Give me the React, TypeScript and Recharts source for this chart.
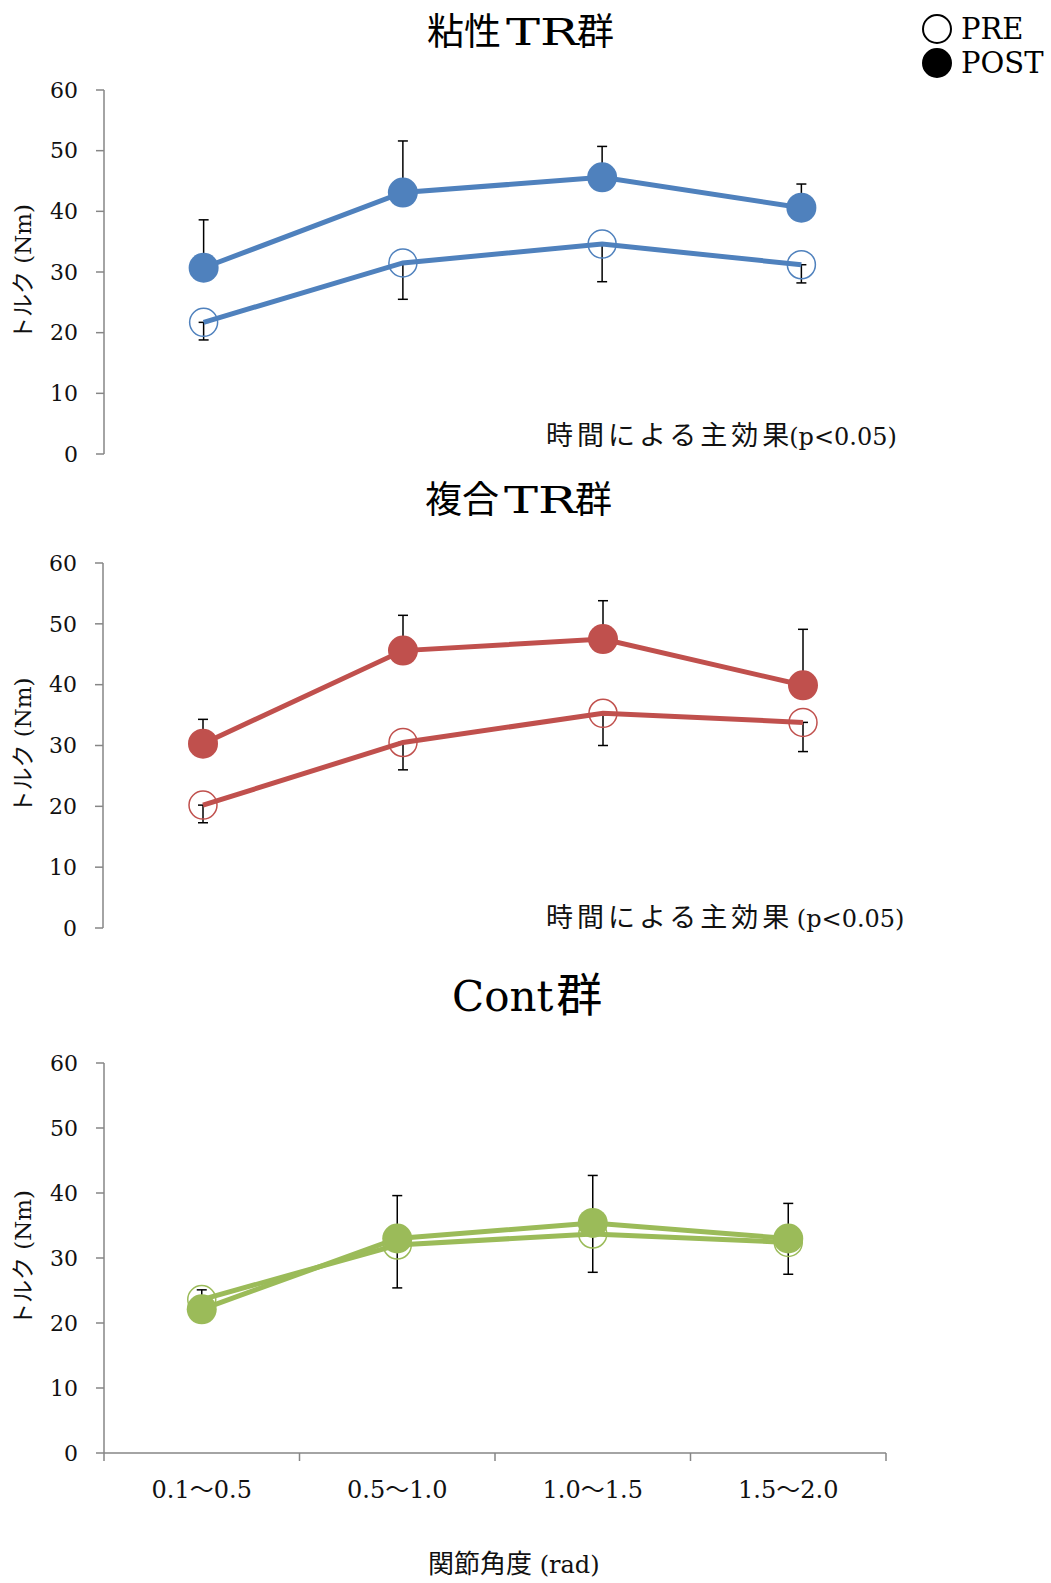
import { LineChart, Line, XAxis, YAxis, ErrorBar, Legend } from 'recharts';

const categories = ['0.1〜0.5', '0.5〜1.0', '1.0〜1.5', '1.5〜2.0'];
const yTicks = [0, 10, 20, 30, 40, 50, 60];
const bandTicks = [0, 0.5, 1, 1.5, 2, 2.5, 3, 3.5, 4];
const seriesNames = ['PRE', 'POST'];

// 粘性TR群
const viscPre = [21.7, 31.5, 34.6, 31.2];
const viscPreSd = [2.9, 6.0, 6.2, 3.0];
const viscPost = [30.7, 43.1, 45.6, 40.6];
const viscPostSd = [7.9, 8.5, 5.1, 3.9];

// 複合TR群
const combPre = [20.2, 30.5, 35.3, 33.8];
const combPreSd = [2.9, 4.5, 5.3, 4.8];
const combPost = [30.3, 45.6, 47.5, 39.9];
const combPostSd = [4.0, 5.8, 6.3, 9.2];

// Cont群
const contPre = [23.6, 32.0, 33.7, 32.4];
const contPreSd = [1.5, 6.6, 5.9, 4.9];
const contPost = [22.1, 33.0, 35.4, 33.0];
const contPostSd = [3.0, 6.6, 7.3, 5.4];

const SERIF = "'DejaVu Serif', 'Noto Sans CJK JP', serif";
const CJK = "'Noto Sans CJK JP', sans-serif";
const AXIS = '#868686';

const buildRows = (pre: number[], preSd: number[], post: number[], postSd: number[]) =>
  categories.map((c, i) => ({
    x: i + 0.5,
    cat: c,
    pre: pre[i],
    post: post[i],
    // PRE の誤差は下向き、POST は上向きのみ
    preErr: [preSd[i], 0],
    postErr: [0, postSd[i]],
  }));

const LegendContent = (props: any) => {
  const items = [...(props.payload || [])].sort(
    (a: any, b: any) => seriesNames.indexOf(a.value) - seriesNames.indexOf(b.value)
  );
  return (
    <div>
      {items.map((entry: any) => (
        <div key={entry.value} style={{ display: 'flex', alignItems: 'center', height: 34 }}>
          <svg width={32} height={32}>
            <circle
              cx={16}
              cy={16}
              r={14}
              fill={entry.value === 'POST' ? '#000' : 'none'}
              stroke="#000"
              strokeWidth={2}
            />
          </svg>
          <span style={{ fontFamily: SERIF, fontSize: 29, marginLeft: 8, color: '#000', lineHeight: '34px' }}>
            {entry.value}
          </span>
        </div>
      ))}
    </div>
  );
};

const BandTick = (props: any) => {
  const { x, y, payload } = props;
  const v = payload.value;
  if (Number.isInteger(v)) {
    return <line x1={x} y1={y} x2={x} y2={y + 8} stroke={AXIS} strokeWidth={1.5} />;
  }
  return (
    <text x={x} y={y + 45} textAnchor="middle" fontSize={24} fontFamily={SERIF} fill="#111">
      {categories[Math.floor(v)]}
    </text>
  );
};

const yLabel = (props: any) => {
  const vb = props.viewBox;
  const cx = vb.x + 23;
  const cy = vb.y + vb.height / 2;
  return (
    <text
      x={cx}
      y={cy}
      transform={`rotate(-90 ${cx} ${cy})`}
      textAnchor="middle"
      dominantBaseline="central"
      fontSize={23}
      fontFamily={SERIF}
      fill="#111"
    >
      トルク (Nm)
    </text>
  );
};

interface PanelProps {
  rows: ReturnType<typeof buildRows>;
  color: string;
  top: number;
  height: number;
  margin: { top: number; right: number; bottom: number; left: number };
  yWidth: number;
  showX?: boolean;
  legend?: boolean;
}

function Panel({ rows, color, top, height, margin, yWidth, showX, legend }: PanelProps) {
  return (
    <div style={{ position: 'absolute', left: 0, top }}>
      <LineChart width={1051} height={height} data={rows} margin={margin}>
        <XAxis
          dataKey="x"
          type="number"
          domain={[0, 4]}
          ticks={bandTicks}
          interval={0}
          hide={!showX}
          height={60}
          axisLine={{ stroke: AXIS, strokeWidth: 1.5 }}
          tickLine={false}
          tickSize={0}
          tickMargin={0}
          tick={<BandTick />}
        />
        <YAxis
          domain={[0, 60]}
          ticks={yTicks}
          width={yWidth}
          axisLine={{ stroke: AXIS, strokeWidth: 1.5 }}
          tickLine={{ stroke: AXIS, strokeWidth: 1.5 }}
          tickSize={8}
          tickMargin={18}
          tick={{ fontSize: 22, fill: '#111', fontFamily: SERIF }}
          label={yLabel}
        />
        {legend && (
          <Legend
            layout="horizontal"
            verticalAlign="middle"
            align="center"
            content={<LegendContent />}
            wrapperStyle={{ left: 921, top: 12, width: 130, height: 70 }}
          />
        )}
        <Line
          name="PRE"
          dataKey="pre"
          type="linear"
          stroke={color}
          strokeWidth={5}
          dot={{ r: 14, fill: 'none', stroke: color, strokeWidth: 1.5 }}
          activeDot={false}
          isAnimationActive={false}
        >
          <ErrorBar dataKey="preErr" direction="y" width={5} stroke="#000" strokeWidth={1.5} />
        </Line>
        <Line
          name="POST"
          dataKey="post"
          type="linear"
          stroke={color}
          strokeWidth={5}
          dot={{ r: 15, fill: color, stroke: color, strokeWidth: 0 }}
          activeDot={false}
          isAnimationActive={false}
        >
          <ErrorBar dataKey="postErr" direction="y" width={5} stroke="#000" strokeWidth={1.5} />
        </Line>
      </LineChart>
    </div>
  );
}

function Title({ left, centerY, children, size }: { left: number; centerY: number; children: any; size: number }) {
  return (
    <div
      style={{
        position: 'absolute',
        left,
        top: centerY - size * 0.7,
        height: size * 1.4,
        lineHeight: `${size * 1.4}px`,
        fontSize: size,
        fontFamily: SERIF,
        color: '#000',
        whiteSpace: 'nowrap',
      }}
    >
      {children}
    </div>
  );
}

// 幅の広い TR（全角風）
function WideTR() {
  return (
    <span style={{ display: 'inline-block', width: 68, margin: '0 3px 0 5px' }}>
      <span style={{ display: 'inline-block', transform: 'scaleX(1.38)', transformOrigin: 'left' }}>TR</span>
    </span>
  );
}

function Note({ left, centerY, gap }: { left: number; centerY: number; gap?: boolean }) {
  return (
    <div
      style={{
        position: 'absolute',
        left,
        top: centerY - 19,
        height: 38,
        lineHeight: '38px',
        whiteSpace: 'nowrap',
        color: '#111',
      }}
    >
      <span style={{ fontFamily: CJK, fontSize: 27, letterSpacing: 4 }}>時間による主効果</span>
      <span style={{ fontFamily: SERIF, fontSize: 24, marginLeft: -4 }}>{gap ? ' (p<0.05)' : '(p<0.05)'}</span>
    </div>
  );
}

export default function App() {
  const viscRows = buildRows(viscPre, viscPreSd, viscPost, viscPostSd);
  const combRows = buildRows(combPre, combPreSd, combPost, combPostSd);
  const contRows = buildRows(contPre, contPreSd, contPost, contPostSd);

  return (
    <div style={{ position: 'absolute', left: 0, top: 0, width: 1051, height: 1583, background: '#fff' }}>
      <Panel
        rows={viscRows}
        color="#4F81BD"
        top={0}
        height={480}
        margin={{ top: 90, right: 150, bottom: 26, left: 0 }}
        yWidth={104}
        legend
      />
      <Panel
        rows={combRows}
        color="#C0504D"
        top={480}
        height={480}
        margin={{ top: 83, right: 148, bottom: 32, left: 0 }}
        yWidth={103}
      />
      <Panel
        rows={contRows}
        color="#9BBB59"
        top={960}
        height={623}
        margin={{ top: 103, right: 165, bottom: 70, left: 0 }}
        yWidth={104}
        showX
      />

      <Title left={427} centerY={30} size={37}>
        <span style={{ fontFamily: CJK }}>粘性</span>
        <WideTR />
        <span style={{ fontFamily: CJK }}>群</span>
      </Title>
      <Title left={425} centerY={498} size={37}>
        <span style={{ fontFamily: CJK }}>複合</span>
        <WideTR />
        <span style={{ fontFamily: CJK }}>群</span>
      </Title>
      <Title left={452} centerY={991} size={42}>
        Cont<span style={{ fontFamily: CJK, fontSize: 46, marginLeft: 3 }}>群</span>
      </Title>

      <Note left={546} centerY={434} />
      <Note left={546} centerY={916} gap />

      <div
        style={{
          position: 'absolute',
          left: 428,
          top: 1562 - 19,
          height: 38,
          lineHeight: '38px',
          whiteSpace: 'nowrap',
          color: '#111',
        }}
      >
        <span style={{ fontFamily: CJK, fontSize: 26 }}>関節角度</span>
        <span style={{ fontFamily: SERIF, fontSize: 24 }}> (rad)</span>
      </div>
    </div>
  );
}
